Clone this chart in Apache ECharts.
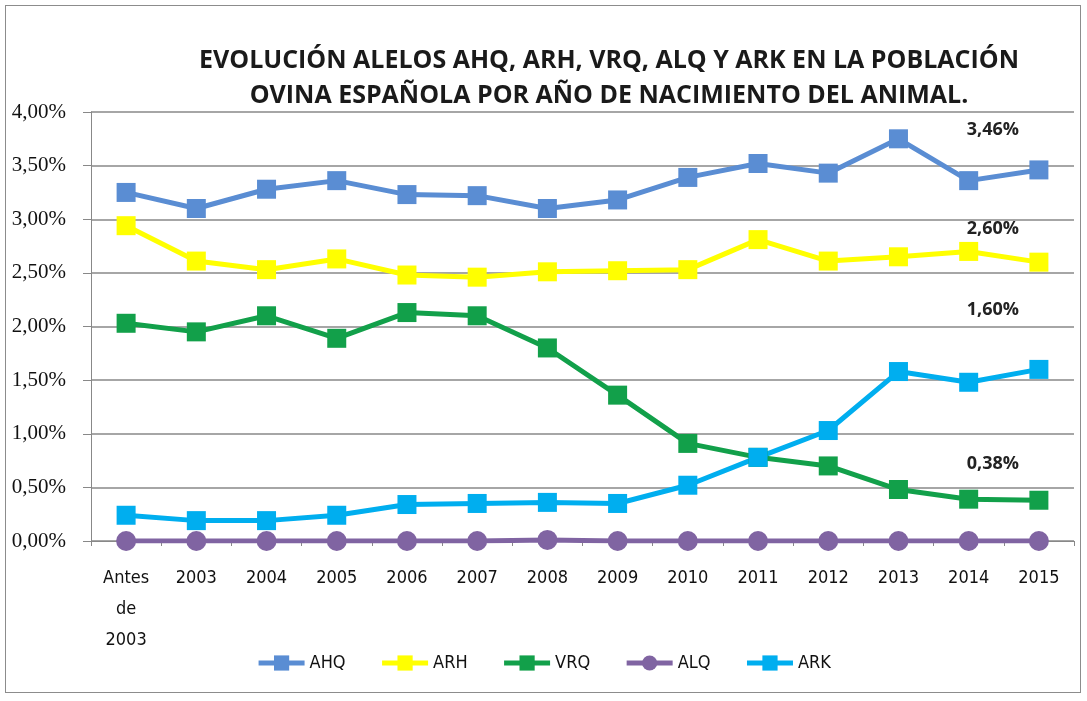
<!DOCTYPE html>
<html>
  <head>
    <meta charset="utf-8" />
    <script src="https://cdn.jsdelivr.net/npm/echarts@6.0.0/dist/echarts.min.js"></script>
    <style>
      body { margin: 0; background: #fff; }
      #frame { position: absolute; left: 5px; top: 5px; width: 1074px; height: 686px; border: 1px solid #8c8c8c; }
      #main { position: absolute; left: 0; top: 0; width: 1087px; height: 701px; }
    </style>
  </head>

  <body>
    <div id="frame"></div>
    <div id="main"></div>
    <script type="text/javascript">
      // values in %
      var years = ['Antes de 2003', '2003', '2004', '2005', '2006', '2007', '2008', '2009', '2010', '2011', '2012', '2013', '2014', '2015'];
      var ahq = [3.25, 3.10, 3.28, 3.36, 3.23, 3.22, 3.10, 3.18, 3.39, 3.52, 3.43, 3.75, 3.36, 3.46];
      var arh = [2.94, 2.61, 2.53, 2.63, 2.48, 2.46, 2.51, 2.52, 2.53, 2.81, 2.61, 2.65, 2.70, 2.60];
      var vrq = [2.03, 1.95, 2.10, 1.89, 2.13, 2.10, 1.80, 1.36, 0.91, 0.78, 0.70, 0.48, 0.39, 0.38];
      var alq = [0.00, 0.00, 0.00, 0.00, 0.00, 0.00, 0.01, 0.00, 0.00, 0.00, 0.00, 0.00, 0.00, 0.00];
      var ark = [0.24, 0.19, 0.19, 0.24, 0.34, 0.35, 0.36, 0.35, 0.52, 0.78, 1.03, 1.58, 1.48, 1.60];

      var narrow = "'DejaVu Sans Condensed', 'Roboto Condensed', Roboto, sans-serif";

      function pct(v) {
        return v.toFixed(2).replace('.', ',') + '%';
      }

      // last point gets a bold label, offset like the original
      function withEndLabel(arr, dy) {
        return arr.map(function (v, i) {
          if (i !== arr.length - 1) return v;
          return {
            value: v,
            label: {
              show: true,
              position: 'top',
              offset: [-46, dy],
              formatter: function (p) { return pct(p.value); },
              fontFamily: 'Open Sans',
              fontWeight: 'bold',
              fontSize: 18,
              color: '#222'
            }
          };
        });
      }

      function lineSeries(name, data, color, symbol) {
        return {
          name: name,
          type: 'line',
          data: data,
          symbol: symbol,
          symbolSize: symbol === 'circle' ? 20 : 19,
          itemStyle: { color: color },
          lineStyle: { color: color, width: 5 },
          emphasis: { disabled: true },
          animation: false
        };
      }

      var myChart = echarts.init(document.getElementById('main'));

      var option = {
        title: {
          text: 'EVOLUCIÓN ALELOS AHQ, ARH, VRQ, ALQ Y ARK EN LA POBLACIÓN\nOVINA ESPAÑOLA POR AÑO DE NACIMIENTO DEL ANIMAL.',
          left: 604,
          top: 38,
          textAlign: 'center',
          textStyle: {
            fontFamily: 'Open Sans',
            fontWeight: 'bold',
            fontSize: 25,
            lineHeight: 35,
            color: '#1a1a1a'
          }
        },
        legend: {
          bottom: 24,
          left: 'center',
          itemWidth: 46,
          itemHeight: 19,
          itemGap: 34,
          lineStyle: { width: 5 },
          textStyle: { fontFamily: narrow, fontSize: 18, color: '#111' },
          data: ['AHQ', 'ARH', 'VRQ', 'ALQ', 'ARK']
        },
        grid: { left: 91, right: 13, top: 112, bottom: 160 },
        xAxis: {
          type: 'category',
          data: years,
          boundaryGap: true,
          axisLine: { lineStyle: { color: '#888', width: 1 } },
          axisTick: { show: true, lineStyle: { color: '#888' } },
          axisLabel: {
            interval: 0,
            margin: 22,
            fontFamily: narrow,
            fontSize: 18,
            lineHeight: 31,
            color: '#111',
            formatter: function (v) { return v.split(' ').join('\n'); }
          }
        },
        yAxis: {
          type: 'value',
          min: 0,
          max: 4,
          interval: 0.5,
          axisLine: { show: true, lineStyle: { color: '#888' } },
          axisTick: { show: true, length: 8, lineStyle: { color: '#888' } },
          splitLine: { lineStyle: { color: '#888', width: 1.5 } },
          axisLabel: {
            margin: 25,
            fontFamily: 'Liberation Serif',
            fontSize: 21,
            color: '#111',
            formatter: function (v) { return pct(v); }
          }
        },
        series: [
          lineSeries('AHQ', withEndLabel(ahq, -17), '#5a8dd3', 'rect'),
          lineSeries('ARH', withEndLabel(arh, -10), '#ffff00', 'rect'),
          lineSeries('VRQ', withEndLabel(vrq, -13), '#12a04a', 'rect'),
          lineSeries('ALQ', alq, '#8064a2', 'circle'),
          lineSeries('ARK', withEndLabel(ark, -36), '#00aeef', 'rect')
        ]
      };

      myChart.setOption(option);
    </script>
  </body>

</html>
